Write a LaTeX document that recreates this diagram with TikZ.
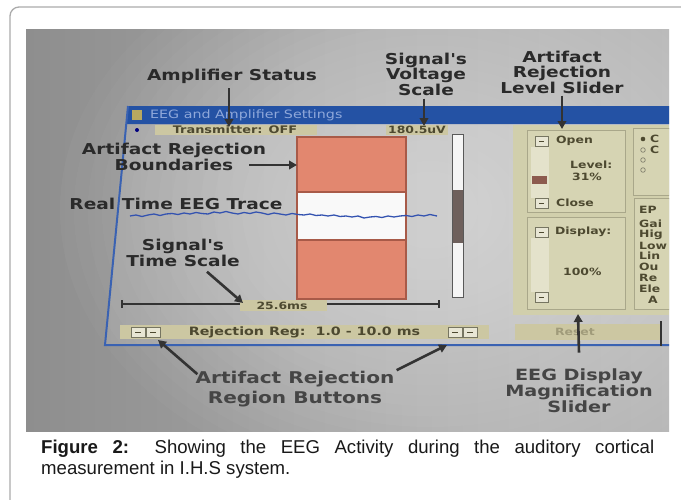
\documentclass[tikz,border=0pt]{standalone}
\usepackage{fontspec}
\setmainfont{Liberation Sans}
\newfontfamily\lblfont[FakeStretch=1.24]{DejaVu Sans}
\newfontfamily\uifont[FakeStretch=1.24]{DejaVu Sans}
\usetikzlibrary{arrows.meta,calc}
\definecolor{framec}{HTML}{ABABAB}
\definecolor{bgL}{HTML}{8E8E8E}
\definecolor{bgR}{HTML}{B8B8B8}
\definecolor{titleblue}{HTML}{2452A4}
\definecolor{titletext}{HTML}{8FA8DA}
\definecolor{winblue}{HTML}{3A62B2}
\definecolor{strip}{HTML}{CCC7A2}
\definecolor{panel}{HTML}{D1CFAC}
\definecolor{boxfill}{HTML}{D6D4B3}
\definecolor{boxedge}{HTML}{A9A78A}
\definecolor{salmon}{HTML}{E2876F}
\definecolor{salmonedge}{HTML}{A85A48}
\definecolor{lbl}{HTML}{2A2A2A}
\definecolor{lblB}{HTML}{454545}
\definecolor{arrc}{HTML}{333333}
\definecolor{tracec}{HTML}{3352B0}
\definecolor{uitext}{HTML}{4D4930}
\definecolor{thumbc}{HTML}{6E605C}
\definecolor{slthumb}{HTML}{8C5A4E}
\definecolor{track}{HTML}{E4E2CB}
\definecolor{btn}{HTML}{E8E6D4}
\definecolor{iconc}{HTML}{B8A860}
\begin{document}
\begin{tikzpicture}[x=1pt,y=-1pt,
  lbltxt/.style={font=\lblfont\bfseries\fontsize{15}{15.5}\selectfont, text=lbl, align=center, inner sep=0pt},
  arr/.style={draw=arrc, line width=2.6pt, -{Triangle[length=8pt,width=8.5pt]}},
  uitxt/.style={font=\uifont\bfseries\fontsize{10}{11}\selectfont, text=uitext, inner sep=0pt},
  ubtn/.style={fill=btn, draw=boxedge!70!black, line width=0.5pt},
  pbox/.style={draw=boxedge, fill=boxfill, line width=0.8pt},
]
\useasboundingbox (0,0) rectangle (681,499);
\fill[white] (0,0) rectangle (681,499);
\draw[framec, line width=1.3pt, rounded corners=9pt] (10,7) rectangle (720,540);
\begin{scope}
\clip (26,29) rectangle (669,431);
\fill[left color=bgL, right color=bgR] (26,29) rectangle (669,431);
\foreach \i [evaluate=\i as \rx using 370-14*\i, evaluate=\i as \ry using 280-10.5*\i] in {0,...,23} {
  \fill[white, opacity=0.026] (430,210) ellipse [x radius=\rx pt, y radius=\ry pt];
}
% window
\fill[white, opacity=0.12] (128,106) -- (669,106) -- (669,345) -- (105,345) -- cycle;
\fill[titleblue] (128,106) -- (669,106) -- (669,124) -- (126,124) -- cycle;
\draw[winblue, line width=2pt] (128,106) -- (105,345) -- (669,345);
\fill[iconc] (132,110) rectangle (142,120);
\node[anchor=west, font=\uifont\fontsize{11.5}{12}\selectfont, text=titletext, inner sep=0pt] (ttl) at (150,115.5) {EEG and Amplifier Settings};
% status row
\fill[blue!50!black] (137,130) circle (2pt);
\fill[strip] (155,125) rectangle (317,135);
\node[uitxt, font=\uifont\bfseries\fontsize{10.4}{11}\selectfont] (tx) at (235,130) {Transmitter: OFF};
\fill[strip] (386,125) rectangle (448,135);
\node[uitxt] (uv) at (417,130) {180.5uV};
% rejection boundaries box
\fill[salmon] (297,137) rectangle (406,192);
\fill[white!95!gray] (297,192) rectangle (406,240);
\fill[salmon] (297,240) rectangle (406,299);
\draw[salmonedge, line width=1.2pt] (297,137) rectangle (406,299) (297,192) -- (406,192) (297,240) -- (406,240);
\coordinate (boxNW) at (297,137);
% EEG trace
\draw[tracec, line width=1.3pt, line join=round] plot coordinates {(130,216) (136,215) (142,216.5) (148,215) (154,214) (160,215.5) (166,214) (172,213.5) (178,214.5) (184,213) (190,214) (196,212.5) (202,213.5) (208,214) (214,212) (220,213) (226,211.5) (232,213) (238,214) (244,212.5) (250,213.5) (256,212) (262,213) (268,214.5) (274,213) (280,214) (286,215) (292,213.5) (298,214.5) (304,215) (310,214) (316,215.5) (322,215) (328,216) (334,215) (340,216.5) (346,216) (352,217) (358,216) (364,218) (370,217) (376,216.5) (382,217.5) (388,216) (394,217) (400,216) (406,215.5) (412,216.5) (418,215) (424,216) (430,214.5) (437,216)};
% scrollbar
\draw[fill=white!92!gray, draw=gray!70!black, line width=0.8pt] (452,134) rectangle (463,297);
\fill[thumbc] (452.5,190) rectangle (462.5,243);
% time scale
\draw[arrc, line width=1.3pt] (122,304) -- (240,304) (327,304) -- (439,304) (122,300) -- (122,308) (439,300) -- (439,308);
\fill[strip] (240,300) rectangle (327,311);
\node[uitxt] (ts) at (282,305.5) {25.6ms};
% bottom strip
\fill[strip] (120,325) rectangle (489,339);
\draw[ubtn] (131,327) rectangle (145,337);
\draw[ubtn] (146,327) rectangle (160,337);
\draw[uitext, line width=1pt] (135,332) -- (141,332) (150,332) -- (156,332);
\draw[ubtn] (448,327) rectangle (462,337);
\draw[ubtn] (463,327) rectangle (477,337);
\draw[uitext, line width=1pt] (452,332) -- (458,332) (467,332) -- (473,332);
\coordinate (lbtn) at (158,340);
\coordinate (rbtn) at (447,345);
\node[uitxt, font=\uifont\bfseries\fontsize{11.5}{12}\selectfont] (rr) at (304.5,332) {Rejection Reg:\ \ 1.0 - 10.0 ms};
% right panel
\fill[panel] (513,125) rectangle (669,315);
\draw[pbox] (527,130) rectangle (625,212);
\draw[pbox] (527,217) rectangle (625,309);
\draw[pbox] (633,128) rectangle (675,195);
\draw[pbox] (634,198) rectangle (675,309);
\fill[track] (531,147) rectangle (549,198);
\fill[slthumb] (532,176) rectangle (547,184);
\draw[ubtn] (535,136) rectangle (548,146);
\draw[ubtn] (535,198) rectangle (548,208);
\draw[uitext, line width=1pt] (539,141) -- (544,141) (539,203) -- (544,203);
\node[uitxt, anchor=west] (open) at (556,141) {Open};
\node[uitxt, anchor=west] (level) at (570,165) {Level:};
\node[uitxt, anchor=west] (pct) at (572,177) {31\%};
\node[uitxt, anchor=west] (close) at (556,203) {Close};
\fill[track] (531,238) rectangle (549,292);
\draw[ubtn] (535,227) rectangle (548,237);
\draw[ubtn] (535,292) rectangle (548,302);
\draw[uitext, line width=1pt] (539,232) -- (544,232) (539,297) -- (544,297);
\node[uitxt, anchor=west] (disp) at (555,232) {Display:};
\node[uitxt, anchor=west] (hund) at (563,272) {100\%};
\fill[uitext] (643,139) circle (2.3pt);
\draw[uitext!70, line width=0.7pt] (643,150) circle (2.3pt) (643,160) circle (2.3pt) (643,170) circle (2.3pt);
\node[uitxt, anchor=west] (c1) at (650,139) {C};
\node[uitxt, anchor=west] (c2) at (650,150) {C};
\node[uitxt, anchor=west] (ep) at (639,210) {EP};
\node[uitxt, anchor=west] (e1) at (639,224) {Gai};
\node[uitxt, anchor=west] (e2) at (639,235) {Hig};
\node[uitxt, anchor=west] (e3) at (639,246) {Low};
\node[uitxt, anchor=west] (e4) at (639,256) {Lin};
\node[uitxt, anchor=west] (e5) at (639,267) {Ou};
\node[uitxt, anchor=west] (e6) at (639,278) {Re};
\node[uitxt, anchor=west] (e7) at (639,289) {Ele};
\node[uitxt, anchor=west] (e8) at (648,300) {A};
\fill[strip] (515,324) rectangle (661,340);
\node[uitxt, text=uitext!35!strip] (rst) at (575,332) {Reset};
\draw[arrc, line width=1.2pt] (661,321) -- (661,346);
\coordinate (magT) at (578,314);
% labels
\node[lbltxt] (amp) at (232,76) {Amplifier Status};
\node[lbltxt] (volt) at (426,74) {Signal's\\Voltage\\Scale};
\node[lbltxt] (lvl) at (562,72) {Artifact\\Rejection\\Level Slider};
\node[lbltxt] (bnd) at (174,157) {Artifact Rejection\\Boundaries};
\node[lbltxt] (trc) at (176,204) {Real Time EEG Trace};
\node[lbltxt] (tsc) at (183,253) {Signal's\\Time Scale};
\node[lbltxt, text=lblB, font=\lblfont\bfseries\fontsize{16.2}{19.5}\selectfont] (rrb) at (295,389) {Artifact Rejection\\Region Buttons};
\node[lbltxt, text=lblB, font=\lblfont\bfseries\fontsize{15.5}{15}\selectfont] (mag) at (579,391) {EEG Display\\Magnification\\Slider};
% arrows
\coordinate (ampT) at (229,127);
\coordinate (voltT) at (424,126);
\coordinate (lvlT) at (562,129);
\coordinate (tsT) at (243,303);
\draw[arr] (amp.south -| ampT) ++(0,5) -- (ampT);
\draw[arr] (volt.south -| voltT) ++(0,3) -- (voltT);
\draw[arr] (lvl.south -| lvlT) ++(0,2) -- (lvlT);
\draw[arr] ($(bnd.east)+(-17,8)$) -- (boxNW |- 0,165);
\draw[arr] ($(tsc.south)+(24,5)$) -- (tsT);
\draw[arr] ($(rrb.north west)+(2,3)$) -- (lbtn);
\draw[arr] ($(rrb.north east)+(2,-1)$) -- (rbtn);
\draw[arr] ($(mag.north)+(0,-16)$) -- (magT);
\end{scope}
% caption
\node[anchor=north west, inner sep=0pt, text width=613pt, align=justify,
      font=\fontsize{18.6}{21}\selectfont, text=black!90] (cap) at (41,440)
  {\hyphenpenalty=10000 \exhyphenpenalty=10000 \spaceskip=0.278em plus 1em minus 0.05em\relax
   \textbf{Figure 2:} Showing the EEG Activity during the auditory cortical measurement in I.H.S system.};
\end{tikzpicture}
\end{document}
